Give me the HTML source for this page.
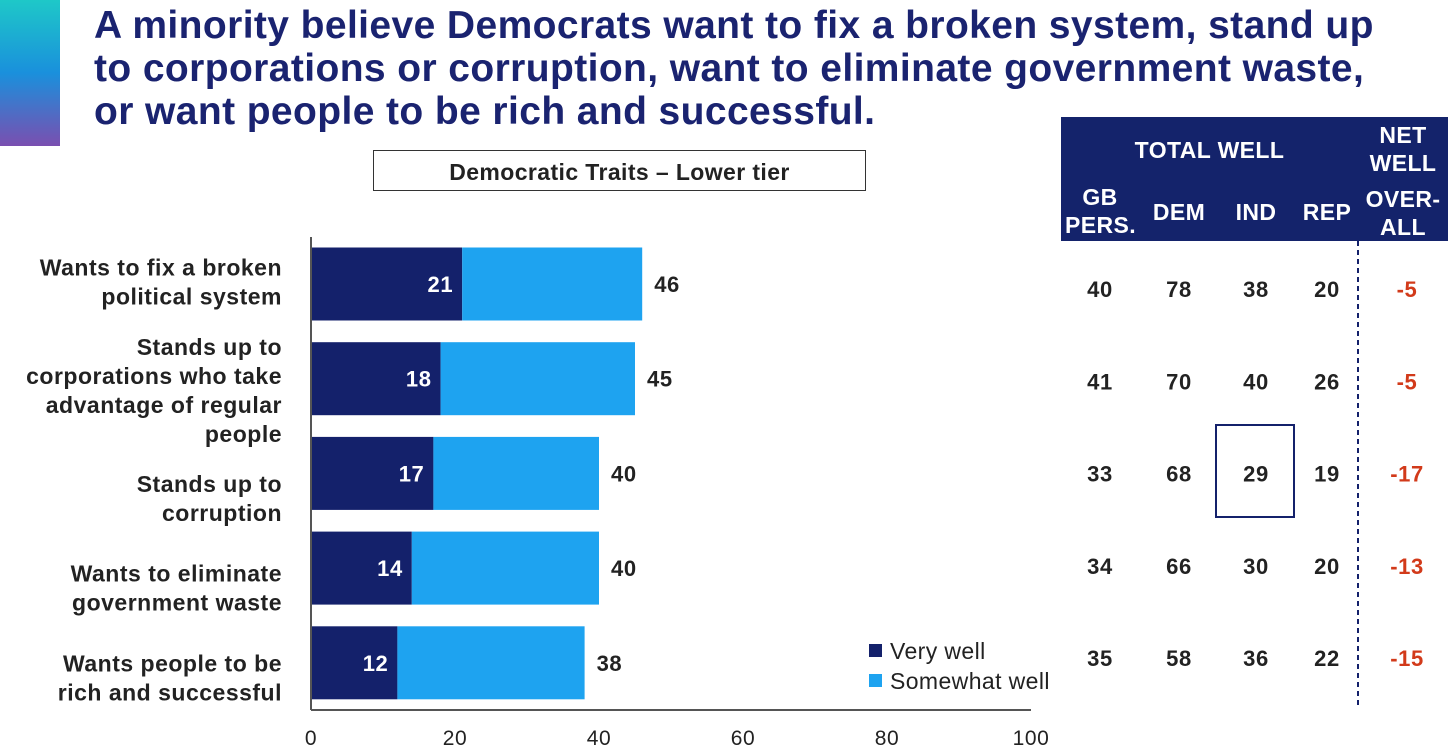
<!DOCTYPE html>
<html><head><meta charset="utf-8"><style>
body{margin:0;width:1456px;height:756px;background:#fff;position:relative;overflow:hidden;font-family:"Liberation Sans",Arial,sans-serif}
.abs{position:absolute}
#grad{left:0;top:0;width:60px;height:146px;background:linear-gradient(#1ec8c8,#1a90dc 50%,#7a4fb0)}
#title{left:94px;top:4px;font-size:39px;letter-spacing:0.4px;font-weight:bold;color:#1a2370;line-height:43px;white-space:nowrap}
#sub{left:373px;top:150px;width:491px;height:39px;border:1px solid #333;font-size:23px;letter-spacing:0.4px;font-weight:bold;color:#222;text-align:center;line-height:42px;white-space:nowrap}
#thead{left:1061px;top:117px;width:387px;height:124px;background:#14236b;color:#fff;font-weight:bold;font-size:23px;letter-spacing:0.4px}
#thead div{position:absolute;text-align:center;line-height:28px;white-space:nowrap}
</style></head><body>
<div id="grad" class="abs"></div>
<div id="title" class="abs">A minority believe Democrats want to fix a broken system, stand up<br>to corporations or corruption, want to eliminate government waste,<br>or want people to be rich and successful.</div>
<div id="sub" class="abs">Democratic Traits – Lower tier</div>
<div id="thead" class="abs">
<div style="left:0;width:297px;top:19px">TOTAL WELL</div>
<div style="left:297px;width:90px;top:4px">NET<br>WELL</div>
<div style="left:297px;width:90px;top:68px">OVER-<br>ALL</div>
<div style="left:4px;width:70px;top:66px">GB<br>PERS.</div>
<div style="left:88px;width:60px;top:81px">DEM</div>
<div style="left:165px;width:60px;top:81px">IND</div>
<div style="left:236px;width:60px;top:81px">REP</div>
</div>
<svg class="abs" style="left:0;top:0" width="1456" height="756" id="chart"></svg>
<script>
const categories=[["Wants to fix a broken","political system"],["Stands up to","corporations who take","advantage of regular","people"],["Stands up to","corruption"],["Wants to eliminate","government waste"],["Wants people to be","rich and successful"]];
const veryWell=[21,18,17,14,12];
const totalWell=[46,45,40,40,38];
const ticks=[0,20,40,60,80,100];
const gbPers=[40,41,33,34,35];
const dem=[78,70,68,66,58];
const ind=[38,40,29,30,36];
const rep=[20,26,19,20,22];
const net=[-5,-5,-17,-13,-15];
const labelShift=[-2,12,25,20,15];
const NS="http://www.w3.org/2000/svg";
const svg=document.getElementById('chart');
const x=v=>311+v*7.2;
const yc=i=>284+i*94.7;
function mk(t,a,txt){const e=document.createElementNS(NS,t);for(const k in a)e.setAttribute(k,a[k]);if(txt!==undefined)e.textContent=txt;svg.appendChild(e);return e;}
categories.forEach((c,i)=>{
 const cy=yc(i),h=73;
 let r=mk('rect',{x:x(0),y:cy-h/2,width:x(veryWell[i])-x(0),height:h,fill:'#14216b'});
 
 
 r=mk('rect',{x:x(veryWell[i]),y:cy-h/2,width:x(totalWell[i])-x(veryWell[i]),height:h,fill:'#1ea3f0'});
 
 
 mk('text',{x:x(veryWell[i])-9,y:cy+8,'text-anchor':'end','font-size':22,'letter-spacing':0.6,'font-weight':'bold',fill:'#fff'},veryWell[i]);
 mk('text',{x:x(totalWell[i])+12,y:cy+8,'font-size':22,'letter-spacing':0.6,'font-weight':'bold',fill:'#222'},totalWell[i]);
 const n=c.length,y0=cy+labelShift[i]-(n-1)*14.5+8;
 c.forEach((l,j)=>mk('text',{x:282,y:y0+j*29,'text-anchor':'end','font-size':23,'letter-spacing':0.5,'font-weight':'bold',fill:'#222'},l));
});
mk('line',{x1:x(0),y1:237,x2:x(0),y2:710,stroke:'#555','stroke-width':2});
mk('line',{x1:x(0),y1:710,x2:x(100),y2:710,stroke:'#555','stroke-width':2});
ticks.forEach(t=>mk('text',{x:x(t),y:745,'text-anchor':'middle','font-size':21,'letter-spacing':0.6,fill:'#222'},t));
mk('rect',{x:869,y:644,width:13,height:13,fill:'#14216b'});
mk('text',{x:890,y:659,'font-size':23,'letter-spacing':0.4,fill:'#222'},'Very well');
mk('rect',{x:869,y:674,width:13,height:13,fill:'#1ea3f0'});
mk('text',{x:890,y:689,'font-size':23,'letter-spacing':0.4,fill:'#222'},'Somewhat well');
mk('line',{x1:1358,y1:241,x2:1358,y2:705,stroke:'#14216b','stroke-width':2,'stroke-dasharray':'5,4'});
mk('rect',{x:1216,y:425,width:78,height:92,fill:'none',stroke:'#14216b','stroke-width':2});
const cols=[[gbPers,1100],[dem,1179],[ind,1256],[rep,1327],[net,1407]];
for(let i=0;i<5;i++){const y=289+i*92.3;
 cols.forEach(([arr,cx],k)=>mk('text',{x:cx,y:y+8,'text-anchor':'middle','font-size':22,'letter-spacing':0.6,'font-weight':'bold',fill:k==4?'#d23a1a':'#222'},arr[i]));}
</script>
</body></html>
